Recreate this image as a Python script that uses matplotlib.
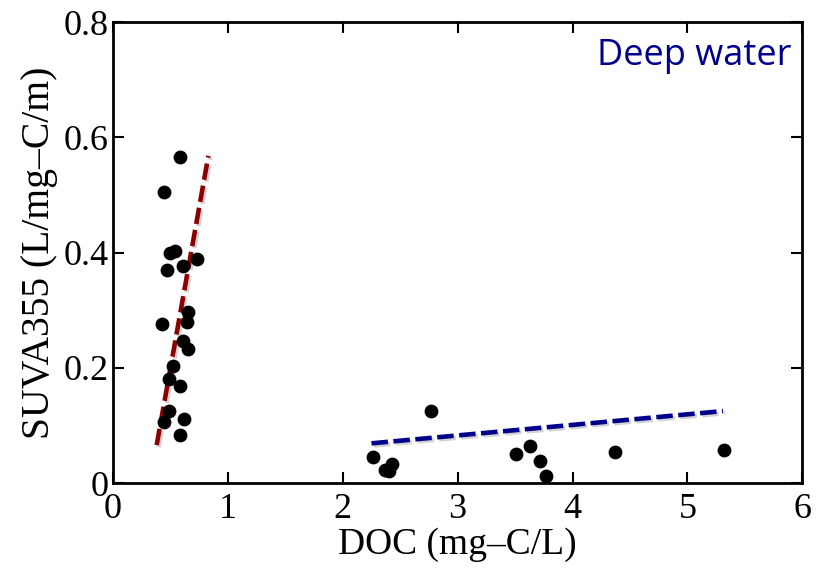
import numpy as np
import matplotlib.pyplot as plt
import matplotlib.patheffects as pe

# left cluster (low DOC)
doc_a = [0.58, 0.44, 0.50, 0.54, 0.47, 0.61, 0.73, 0.65, 0.64, 0.43,
         0.61, 0.65, 0.52, 0.49, 0.58, 0.49, 0.44, 0.62, 0.58]
suva_a = [0.566, 0.505, 0.399, 0.403, 0.370, 0.377, 0.389, 0.297, 0.280, 0.276,
          0.247, 0.233, 0.203, 0.181, 0.168, 0.125, 0.106, 0.111, 0.083]

# right cluster (high DOC)
doc_b = [2.26, 2.37, 2.43, 2.40, 2.77, 3.51, 3.63, 3.72, 3.77, 4.37, 5.32]
suva_b = [0.045, 0.023, 0.033, 0.021, 0.125, 0.050, 0.064, 0.038, 0.012, 0.054, 0.057]

# fitted lines (end points)
fit_a_x = [0.38, 0.83]
fit_a_y = [0.066, 0.568]
fit_b_x = [2.25, 5.31]
fit_b_y = [0.069, 0.125]

fig = plt.figure(figsize=(8.22, 5.69), dpi=100)
ax = fig.add_axes([0.1375, 0.151, 0.8385, 0.810])

shadow = [pe.SimpleLineShadow(offset=(1.5, -1.5), shadow_color='gray', alpha=0.35), pe.Normal()]

ax.scatter(doc_a + doc_b, suva_a + suva_b, s=80, c='black', zorder=3)
ax.plot(fit_a_x, fit_a_y, ls=(0, (3.6, 1.3)), lw=3.3, c='#8b0000', path_effects=shadow, zorder=2)
ax.plot(fit_b_x, fit_b_y, ls=(0, (3.6, 1.2)), lw=3.3, c='#00008b', path_effects=shadow, zorder=2)

ax.set_xlim(0, 6)
ax.set_ylim(0, 0.8)
ax.set_xticks(range(7))
ax.set_yticks([0, 0.2, 0.4, 0.6, 0.8])
ax.set_yticklabels(['0', '0.2', '0.4', '0.6', '0.8'])

serif = 'Liberation Serif'
for lab in ax.get_xticklabels() + ax.get_yticklabels():
    lab.set_fontfamily(serif)
    lab.set_fontsize(26)
ax.tick_params(direction='in', length=8, width=1.5, top=True, right=True)
ax.tick_params(axis='x', pad=7)
ax.tick_params(axis='y', pad=3)
for sp in ax.spines.values():
    sp.set_linewidth(2)

ax.set_xlabel('DOC (mg\u2013C/L)', fontfamily=serif, fontsize=27, labelpad=1)
ax.set_ylabel('SUVA355 (L/mg\u2013C/m)', fontfamily=serif, fontsize=28.5, labelpad=4)

ax.text(0.985, 0.907, 'Deep water', transform=ax.transAxes, ha='right', va='baseline',
        fontfamily='Open Sans', fontsize=26, color='#00008b')

fig.savefig('out.png', dpi=100)
